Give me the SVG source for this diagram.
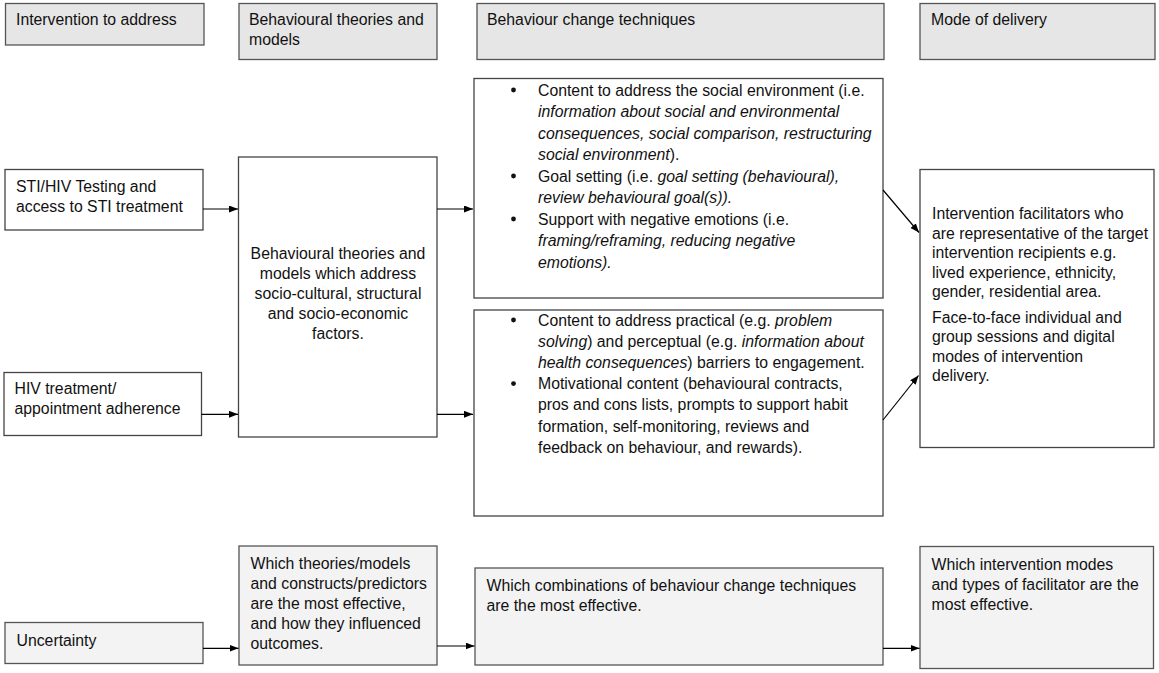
<svg xmlns="http://www.w3.org/2000/svg" width="1159" height="673" viewBox="0 0 1159 673">
<style>
text{font-family:"Liberation Sans",Arial,sans-serif;font-size:15.8px;fill:#111}
.hdr{fill:#e6e6e6;stroke:#555;stroke-width:1.3}
.main{fill:#fff;stroke:#444;stroke-width:1.3}
.unc{fill:#f3f3f3;stroke:#555;stroke-width:1.3}
.it{font-style:italic}
.ct{text-anchor:middle}
.con{stroke:#000;stroke-width:1.2;fill:none;marker-end:url(#ah)}
.bul{fill:#111}
</style>
<defs>
<marker id="ah" markerUnits="userSpaceOnUse" markerWidth="10" markerHeight="8" refX="9" refY="3.5" orient="auto">
<path d="M0,0 L9,3.5 L0,7 z" fill="#000"/>
</marker>
</defs>
<rect width="1159" height="673" fill="#fff"/>

<g id="h1"><rect class="hdr" x="5.5" y="3.5" width="198.5" height="41.5"/><text x="16" y="25">Intervention to address</text></g>
<g id="h2"><rect class="hdr" x="239" y="3.5" width="198" height="56"/><text x="249" y="25">Behavioural theories and</text><text x="249" y="45">models</text></g>
<g id="h3"><rect class="hdr" x="477" y="3.5" width="407" height="56"/><text x="487" y="25">Behaviour change techniques</text></g>
<g id="h4"><rect class="hdr" x="920" y="3.5" width="235" height="56"/><text x="931" y="25">Mode of delivery</text></g>

<g id="sti"><rect class="main" x="5" y="169.5" width="198" height="60.5"/><text x="16" y="192">STI/HIV Testing and</text><text x="16" y="212">access to STI treatment</text></g>
<g id="hiv"><rect class="main" x="4" y="372.5" width="197.5" height="63"/><text x="14.5" y="394">HIV treatment/</text><text x="14.5" y="414">appointment adherence</text></g>
<g id="theories"><rect class="main" x="238.5" y="157" width="198.5" height="280"/>
<text class="ct" x="338" y="259">Behavioural theories and</text>
<text class="ct" x="338" y="279">models which address</text>
<text class="ct" x="338" y="299">socio-cultural, structural</text>
<text class="ct" x="338" y="319">and socio-economic</text>
<text class="ct" x="338" y="339">factors.</text>
</g>

<g id="bctA"><rect class="main" x="474" y="78.5" width="409" height="219.5"/>
<circle class="bul" cx="513.5" cy="90" r="2.4"/>
<text x="538" y="95.5">Content to address the social environment (i.e.</text>
<text x="538" y="117" class="it">information about social and environmental</text>
<text x="538" y="138.5" class="it">consequences, social comparison, restructuring</text>
<text x="538" y="160"><tspan class="it">social environment</tspan>).</text>
<circle class="bul" cx="513.5" cy="176" r="2.4"/>
<text x="538" y="181.5">Goal setting (i.e. <tspan class="it">goal setting (behavioural),</tspan></text>
<text x="538" y="203" class="it">review behavioural goal(s)).</text>
<circle class="bul" cx="513.5" cy="219" r="2.4"/>
<text x="538" y="224.5">Support with negative emotions (i.e.</text>
<text x="538" y="246" class="it">framing/reframing, reducing negative</text>
<text x="538" y="267.5" class="it">emotions).</text>
</g>

<g id="bctB"><rect class="main" x="474" y="310" width="409" height="206"/>
<circle class="bul" cx="513.5" cy="320" r="2.4"/>
<text x="538" y="325.5">Content to address practical (e.g. <tspan class="it">problem</tspan></text>
<text x="538" y="346.7"><tspan class="it">solving</tspan>) and perceptual (e.g. <tspan class="it">information about</tspan></text>
<text x="538" y="367.9"><tspan class="it">health consequences</tspan>) barriers to engagement.</text>
<circle class="bul" cx="513.5" cy="383.6" r="2.4"/>
<text x="538" y="389.1">Motivational content (behavioural contracts,</text>
<text x="538" y="410.3">pros and cons lists, prompts to support habit</text>
<text x="538" y="431.5">formation, self-monitoring, reviews and</text>
<text x="538" y="452.7">feedback on behaviour, and rewards).</text>
</g>

<g id="delivery"><rect class="main" x="920" y="169.5" width="234" height="278"/>
<text x="932" y="219">Intervention facilitators who</text>
<text x="932" y="238.5">are representative of the target</text>
<text x="932" y="258">intervention recipients e.g.</text>
<text x="932" y="277.5">lived experience, ethnicity,</text>
<text x="932" y="297">gender, residential area.</text>
<text x="932" y="322.5">Face-to-face individual and</text>
<text x="932" y="342">group sessions and digital</text>
<text x="932" y="361.5">modes of intervention</text>
<text x="932" y="381">delivery.</text>
</g>

<g id="uncertainty"><rect class="unc" x="5" y="622.5" width="198" height="41"/><text x="16.5" y="645.5">Uncertainty</text></g>
<g id="u-theories"><rect class="unc" x="239" y="546" width="198" height="119"/>
<text x="250.5" y="569">Which theories/models</text>
<text x="250.5" y="589">and constructs/predictors</text>
<text x="250.5" y="609">are the most effective,</text>
<text x="250.5" y="629">and how they influenced</text>
<text x="250.5" y="649">outcomes.</text>
</g>
<g id="u-bct"><rect class="unc" x="475" y="568" width="408" height="97"/>
<text x="486.5" y="590.5">Which combinations of behaviour change techniques</text>
<text x="486.5" y="610.5">are the most effective.</text>
</g>
<g id="u-delivery"><rect class="unc" x="920" y="546.5" width="233.5" height="122"/>
<text x="931.5" y="570">Which intervention modes</text>
<text x="931.5" y="589.5">and types of facilitator are the</text>
<text x="931.5" y="609.5">most effective.</text>
</g>

<g id="connectors">
<line class="con" x1="203" y1="209" x2="238" y2="209"/>
<line class="con" x1="201.5" y1="414.3" x2="238" y2="414.3"/>
<line class="con" x1="437" y1="209" x2="473" y2="209"/>
<line class="con" x1="437" y1="414.3" x2="473" y2="414.3"/>
<line class="con" x1="883" y1="190" x2="919" y2="232.5"/>
<line class="con" x1="883" y1="420" x2="918.5" y2="375.5"/>
<line class="con" x1="203" y1="648.3" x2="238.5" y2="648.3"/>
<line class="con" x1="437" y1="646" x2="474.5" y2="646"/>
<line class="con" x1="883" y1="648.3" x2="919.5" y2="648.3"/>
</g>
</svg>
